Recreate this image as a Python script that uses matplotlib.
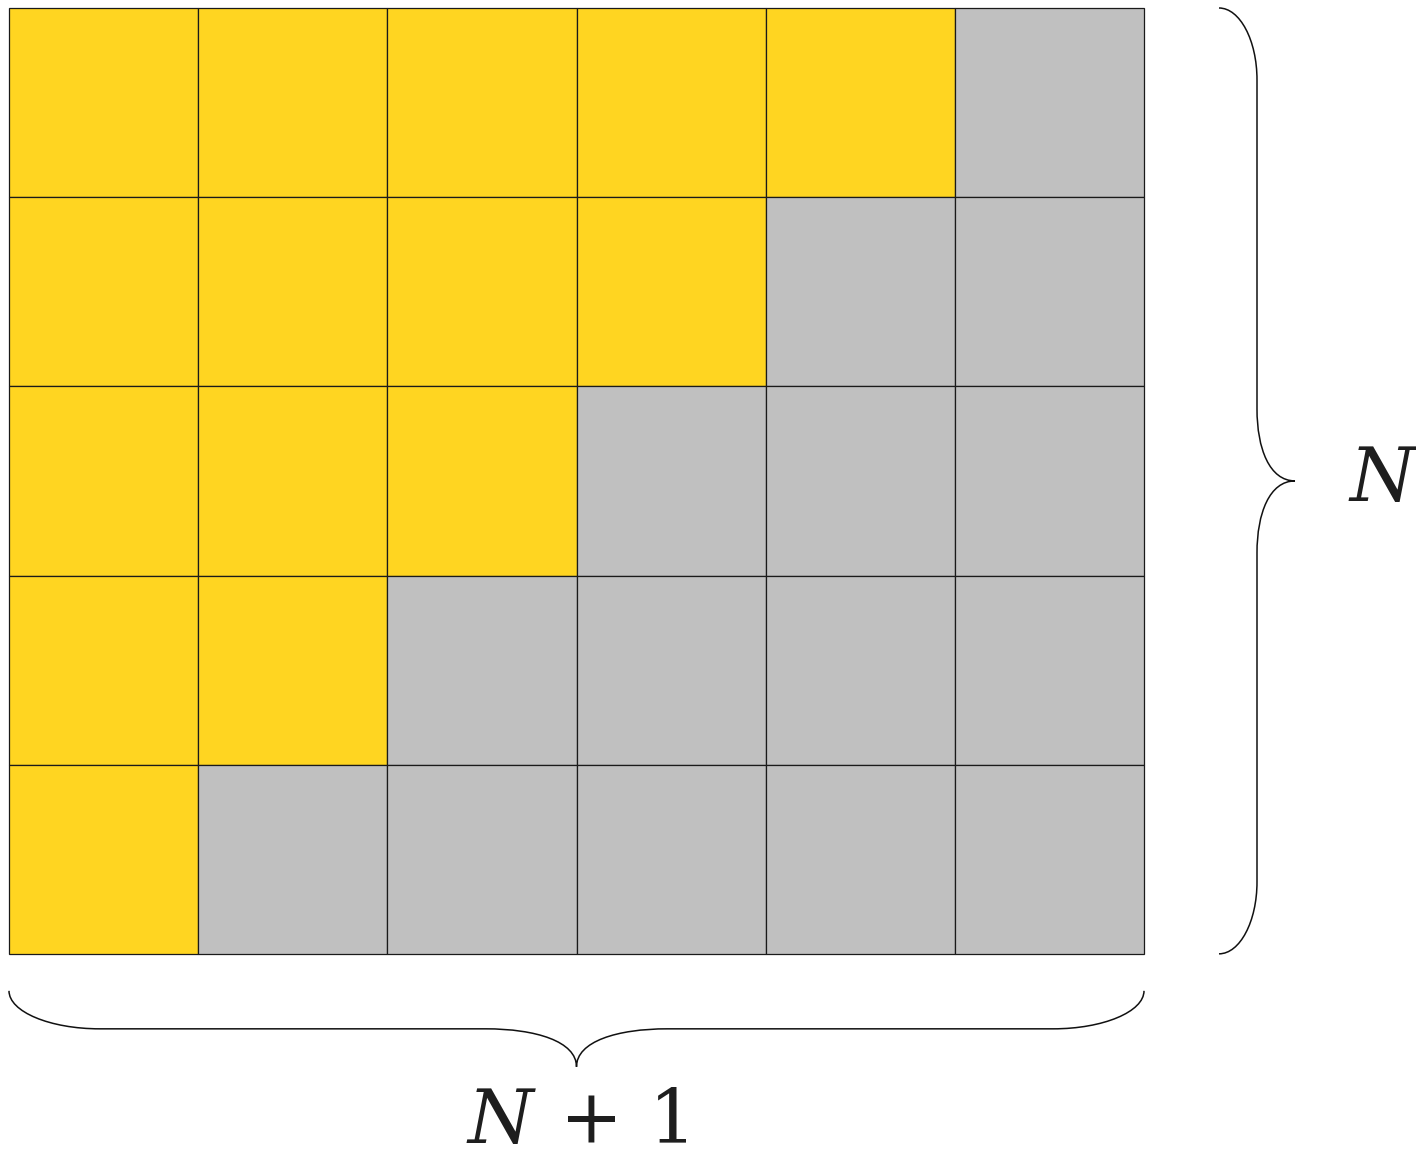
import matplotlib
matplotlib.use("Agg")
import matplotlib.pyplot as plt
from matplotlib.patches import Rectangle, PathPatch
from matplotlib.path import Path

n_rows = 5
n_cols = 6
# number of yellow cells in each row, from top row to bottom row
yellow_per_row = [5, 4, 3, 2, 1]
yellow = "#FFD521"
gray = "#C0C0C0"
label_right = r"$N$"
label_bottom = r"$N\,+\,1$"

plt.rcParams["mathtext.fontset"] = "dejavuserif"

W, H = 1416, 1154
fig = plt.figure(figsize=(W / 100, H / 100), dpi=100)
ax = fig.add_axes([0, 0, 1, 1])
ax.set_axis_off()

u = (1144 - 9) / n_cols  # pixels per cell
x_left_px, y_top_px = 9, 8
ax.set_xlim(-x_left_px / u, (W - x_left_px) / u)
ax.set_ylim(-(H - y_top_px) / u + n_rows, n_rows + y_top_px / u)
ax.set_aspect("auto")

for r in range(n_rows):
    y = n_rows - 1 - r
    for c in range(n_cols):
        col = yellow if c < yellow_per_row[r] else gray
        ax.add_patch(Rectangle((c, y), 1, 1, facecolor=col, edgecolor="#1a1a1a", lw=0.9))


def brace_vertical(x0, y0, y1, depth, r):
    # right-opening curly brace from y1 (top) to y0 (bottom) at x0
    xm = x0 + depth / 2
    xt = x0 + depth
    ym = (y0 + y1) / 2
    k = 0.55
    verts = [
        (x0, y1),
        (x0 + k * (xm - x0), y1), (xm, y1 - (1 - k) * r), (xm, y1 - r),
        (xm, ym + r),
        (xm, ym + (1 - k) * r), (xm + k * (xt - xm) * 0.6, ym), (xt, ym),
        (xm + k * (xt - xm) * 0.6, ym), (xm, ym - (1 - k) * r), (xm, ym - r),
        (xm, y0 + r),
        (xm, y0 + (1 - k) * r), (x0 + k * (xm - x0), y0), (x0, y0),
    ]
    codes = [Path.MOVETO,
             Path.CURVE4, Path.CURVE4, Path.CURVE4,
             Path.LINETO,
             Path.CURVE4, Path.CURVE4, Path.CURVE4,
             Path.CURVE4, Path.CURVE4, Path.CURVE4,
             Path.LINETO,
             Path.CURVE4, Path.CURVE4, Path.CURVE4]
    return Path(verts, codes)


def brace_horizontal(x0, x1, y0, depth, r):
    # downward-opening brace from x0 to x1 at y0
    ym = y0 - depth / 2
    yt = y0 - depth
    xm = (x0 + x1) / 2
    k = 0.55
    verts = [
        (x0, y0),
        (x0, y0 - k * (y0 - ym)), (x0 + (1 - k) * r, ym), (x0 + r, ym),
        (xm - r, ym),
        (xm - (1 - k) * r, ym), (xm, ym - k * (ym - yt) * 0.6), (xm, yt),
        (xm, ym - k * (ym - yt) * 0.6), (xm + (1 - k) * r, ym), (xm + r, ym),
        (x1 - r, ym),
        (x1 - (1 - k) * r, ym), (x1, y0 - k * (y0 - ym)), (x1, y0),
    ]
    codes = [Path.MOVETO,
             Path.CURVE4, Path.CURVE4, Path.CURVE4,
             Path.LINETO,
             Path.CURVE4, Path.CURVE4, Path.CURVE4,
             Path.CURVE4, Path.CURVE4, Path.CURVE4,
             Path.LINETO,
             Path.CURVE4, Path.CURVE4, Path.CURVE4]
    return Path(verts, codes)


bx0 = (1219 - x_left_px) / u
bdepth = (1295 - 1219) / u
ax.add_patch(PathPatch(brace_vertical(bx0, 0, n_rows, bdepth, 0.38),
                       facecolor="none", edgecolor="#111111", lw=1.1))

hy0 = -(990 - 953) / u
hdepth = (1066 - 990) / u
ax.add_patch(PathPatch(brace_horizontal(0, n_cols, hy0, hdepth, 0.48),
                       facecolor="none", edgecolor="#111111", lw=1.1))

ax.text((1384 - x_left_px) / u, n_rows / 2, label_right, fontsize=54,
        color="#1e1e1e", ha="center", va="center")
ax.text(n_cols / 2, -(1122 - 953) / u, label_bottom, fontsize=54,
        color="#1e1e1e", ha="center", va="center")

fig.savefig("out.png", dpi=100)
